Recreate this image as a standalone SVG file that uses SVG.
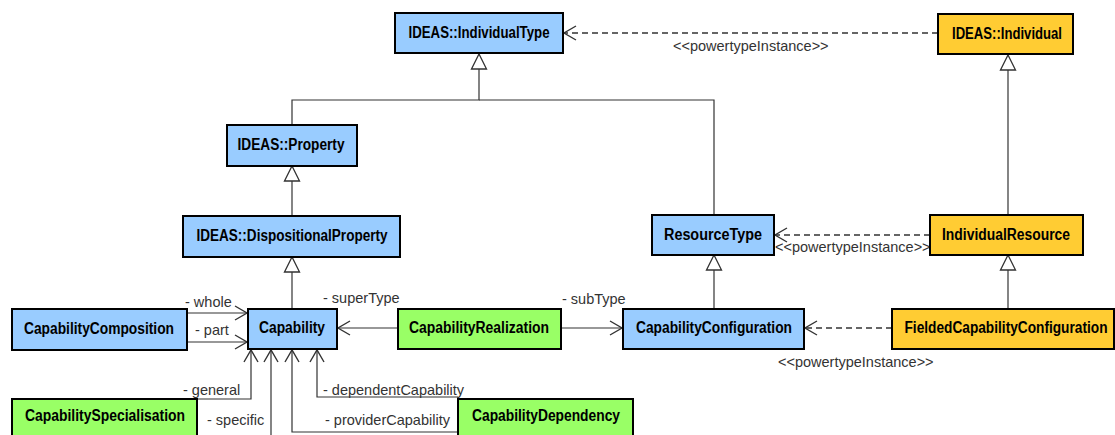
<svg xmlns="http://www.w3.org/2000/svg" width="1115" height="435" viewBox="0 0 1115 435">
<style>
.box{stroke:#000;stroke-width:2}
.blue{fill:#99CCFF}
.green{fill:#99FF66}
.orange{fill:#FFCC33}
.name{font-family:"Liberation Sans",Arial,sans-serif;font-weight:bold;font-size:16px;fill:#000;text-anchor:middle}
.lbl{font-family:"Liberation Sans",Arial,sans-serif;font-size:14.5px;fill:#333}
.c{fill:none;stroke:#333;stroke-width:1.2}
.d{fill:none;stroke:#333;stroke-width:1.3;stroke-dasharray:6 4}
</style>
<defs>
<marker id="open" viewBox="-14 -9 16 18" refX="0" refY="0" markerWidth="16" markerHeight="18" markerUnits="userSpaceOnUse" orient="auto">
<path d="M-12,-7 L0,0 L-12,7" fill="none" stroke="#333" stroke-width="1.4"/>
</marker>
<marker id="tri" viewBox="-17 -10 19 20" refX="0" refY="0" markerWidth="19" markerHeight="20" markerUnits="userSpaceOnUse" orient="auto">
<path d="M-15,-7.5 L0,0 L-15,7.5 Z" fill="#fff" stroke="#333" stroke-width="1.3"/>
</marker>
</defs>
<rect width="1115" height="435" fill="#fff"/>
<g id="connectors">
<path class="c" d="M292,125 V100 H479 V54" marker-end="url(#tri)"/>
<path class="c" d="M714,215 V100 H479"/>
<path class="c" d="M1008,215 V55" marker-end="url(#tri)"/>
<path class="c" d="M292,217 V166" marker-end="url(#tri)"/>
<path class="c" d="M292,308 V257" marker-end="url(#tri)"/>
<path class="c" d="M714,308 V255" marker-end="url(#tri)"/>
<path class="c" d="M1008,308 V255" marker-end="url(#tri)"/>
<path class="d" d="M938,33 H564" marker-end="url(#open)"/>
<path class="d" d="M930,235 H775" marker-end="url(#open)"/>
<path class="d" d="M892,328 H805" marker-end="url(#open)"/>
<path class="c" d="M187,313 H247" marker-end="url(#open)"/>
<path class="c" d="M187,342 H247" marker-end="url(#open)"/>
<path class="c" d="M398,328 H338" marker-end="url(#open)"/>
<path class="c" d="M561,328 H622" marker-end="url(#open)"/>
<path class="c" d="M197,399 H251 V350" marker-end="url(#open)"/>
<path class="c" d="M271,436 V350" marker-end="url(#open)"/>
<path class="c" d="M458,432 H292 V350" marker-end="url(#open)"/>
<path class="c" d="M458,397 H317 V350" marker-end="url(#open)"/>
<text class="lbl" x="673" y="51">&lt;&lt;powertypeInstance&gt;&gt;</text>
<text class="lbl" x="775" y="252">&lt;&lt;powertypeInstance&gt;&gt;</text>
<text class="lbl" x="778" y="367">&lt;&lt;powertypeInstance&gt;&gt;</text>
<text class="lbl" x="185" y="307">- whole</text>
<text class="lbl" x="195" y="335">- part</text>
<text class="lbl" x="323" y="303">- superType</text>
<text class="lbl" x="562" y="304">- subType</text>
<text class="lbl" x="183" y="395">- general</text>
<text class="lbl" x="207" y="425">- specific</text>
<text class="lbl" x="323" y="395">- dependentCapability</text>
<text class="lbl" x="325" y="425">- providerCapability</text>
</g>
<g id="IndividualType"><rect class="box blue" x="395" y="13" width="168" height="40"/><text class="name" x="479" y="38" textLength="141" lengthAdjust="spacingAndGlyphs">IDEAS::IndividualType</text></g>
<g id="Individual"><rect class="box orange" x="938" y="14" width="135" height="40"/><text class="name" x="1007" y="39" textLength="110" lengthAdjust="spacingAndGlyphs">IDEAS::Individual</text></g>
<g id="Property"><rect class="box blue" x="227" y="125" width="130" height="41"/><text class="name" x="291" y="150" textLength="107" lengthAdjust="spacingAndGlyphs">IDEAS::Property</text></g>
<g id="DispositionalProperty"><rect class="box blue" x="183" y="216" width="217" height="41"/><text class="name" x="292" y="241" textLength="191" lengthAdjust="spacingAndGlyphs">IDEAS::DispositionalProperty</text></g>
<g id="ResourceType"><rect class="box blue" x="652" y="215" width="122" height="40"/><text class="name" x="713" y="240" textLength="98" lengthAdjust="spacingAndGlyphs">ResourceType</text></g>
<g id="IndividualResource"><rect class="box orange" x="930" y="215" width="153" height="40"/><text class="name" x="1006" y="240" textLength="128" lengthAdjust="spacingAndGlyphs">IndividualResource</text></g>
<g id="CapabilityComposition"><rect class="box blue" x="12" y="309" width="175" height="41"/><text class="name" x="99" y="334" textLength="150" lengthAdjust="spacingAndGlyphs">CapabilityComposition</text></g>
<g id="Capability"><rect class="box blue" x="248" y="309" width="89" height="40"/><text class="name" x="292" y="333" textLength="66" lengthAdjust="spacingAndGlyphs">Capability</text></g>
<g id="CapabilityRealization"><rect class="box green" x="398" y="309" width="163" height="40"/><text class="name" x="479" y="333" textLength="140" lengthAdjust="spacingAndGlyphs">CapabilityRealization</text></g>
<g id="CapabilityConfiguration"><rect class="box blue" x="623" y="309" width="181" height="40"/><text class="name" x="714" y="333" textLength="156" lengthAdjust="spacingAndGlyphs">CapabilityConfiguration</text></g>
<g id="FieldedCapabilityConfiguration"><rect class="box orange" x="892" y="309" width="222" height="40"/><text class="name" x="1006" y="333" textLength="203" lengthAdjust="spacingAndGlyphs">FieldedCapabilityConfiguration</text></g>
<g id="CapabilitySpecialisation"><rect class="box green" x="12" y="399" width="185" height="42"/><text class="name" x="105" y="421" textLength="160" lengthAdjust="spacingAndGlyphs">CapabilitySpecialisation</text></g>
<g id="CapabilityDependency"><rect class="box green" x="458" y="399" width="175" height="42"/><text class="name" x="546" y="421" textLength="148" lengthAdjust="spacingAndGlyphs">CapabilityDependency</text></g>
</svg>
